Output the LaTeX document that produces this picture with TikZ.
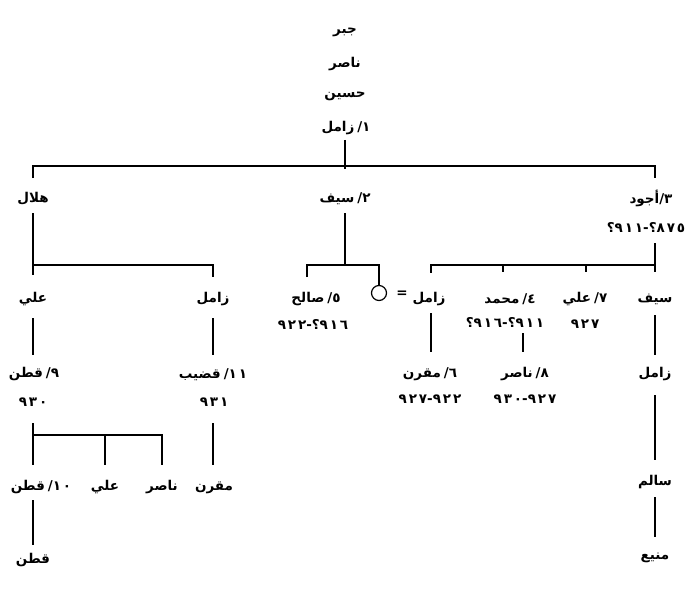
\documentclass[tikz,border=0pt]{standalone}
\usepackage{fontspec}
\newfontfamily\arabicfont[Script=Arabic]{DejaVu Sans}
\newfontfamily\digfont[LetterSpace=14]{DejaVu Sans}
\TeXXeTstate=1
% name labels come out right-to-left: pieces are written in reading (RTL) order
\newcommand\ar[1]{\mbox{\beginR#1\endR}}
\newcommand\dg[1]{\mbox{\digfont\bfseries #1}}
\newcommand\nl[2]{\ar{#2}\hspace{0.22em}\mbox{/}\dg{#1}}
\begin{document}
\begin{tikzpicture}[x=1pt,y=-1pt,
  lbl/.style={font=\arabicfont\bfseries\fontsize{13.5}{15}\selectfont, inner sep=0pt, anchor=center, yshift=-2.5pt},
  ln/.style={line width=1.2pt}]
\useasboundingbox[fill=white] (0,0) rectangle (700,588);
% top lineage
\node[lbl] (jabr) at (345,30) {\ar{جبر}};
\node[lbl] (nasir) at (345,62) {\ar{ناصر}};
\node[lbl] (husayn) at (345,94) {\ar{حسين}};
\node[lbl] (zamil1) at (346,126) {\nl{١}{زامل}};
% generation 2
\node[lbl] (hilal) at (33,196) {\ar{هلال}};
\node[lbl] (sayf2) at (345,196) {\nl{٢}{سيف}};
\node[lbl] (ajwad) at (651,196) {\ar{أجود}\mbox{/}\dg{٣}};
\node[lbl] (ajwadD) at (646,225) {\dg{؟}\dg{٩١١}\dg{-}\dg{؟}\dg{٨٧٥}};
% hilal branch
\node[lbl] (ali1) at (33,297) {\ar{علي}};
\node[lbl] (zamilH) at (213,297) {\ar{زامل}};
\node[lbl] (qatan9) at (34,372) {\nl{٩}{قطن}};
\node[lbl] (qatan9D) at (33,400) {\dg{٩٣٠}};
\node[lbl] (qudayb) at (213,372) {\nl{١١}{قضيب}};
\node[lbl] (qudaybD) at (214,400) {\dg{٩٣١}};
\node[lbl] (qatan10) at (41,485) {\nl{١٠}{قطن}};
\node[lbl] (ali10) at (105,485) {\ar{علي}};
\node[lbl] (nasir10) at (162,485) {\ar{ناصر}};
\node[lbl] (muqrin11) at (214,485) {\ar{مقرن}};
\node[lbl] (qatan) at (33,558) {\ar{قطن}};
% sayf branch
\node[lbl] (salih) at (316,297) {\nl{٥}{صالح}};
\node[lbl] (salihD) at (313,322) {\dg{٩٢٢}\dg{-}\dg{؟}\dg{٩١٦}};
\node[draw, circle, line width=1.2pt, minimum size=15pt, inner sep=0pt] (wife) at (379,293) {};
\node[lbl] (eq) at (402,292) {=};
% ajwad branch
\node[lbl] (zamilS) at (429,297) {\ar{زامل}};
\node[lbl] (muh) at (510,297) {\nl{٤}{محمد}};
\node[lbl] (muhD) at (505,320) {\dg{؟}\dg{٩١٦}\dg{-}\dg{؟}\dg{٩١١}};
\node[lbl] (ali7) at (585,297) {\nl{٧}{علي}};
\node[lbl] (ali7D) at (585,322) {\dg{٩٢٧}};
\node[lbl] (sayf3) at (655,297) {\ar{سيف}};
\node[lbl] (muqrin6) at (430,372) {\nl{٦}{مقرن}};
\node[lbl] (muqrin6D) at (430,397) {\dg{٩٢٧}\dg{-}\dg{٩٢٢}};
\node[lbl] (nasir8) at (525,372) {\nl{٨}{ناصر}};
\node[lbl] (nasir8D) at (525,397) {\dg{٩٣٠}\dg{-}\dg{٩٢٧}};
\node[lbl] (zamil4) at (655,372) {\ar{زامل}};
\node[lbl] (salim) at (655,480) {\ar{سالم}};
\node[lbl] (mani) at (655,555) {\ar{منيع}};
% junction coordinates
\coordinate (b1) at (345,166);
\coordinate (b2) at (33,265);
\coordinate (b3) at (345,265);
\coordinate (b4) at (655,265);
\coordinate (b5) at (33,435);
% connectors
\draw[ln] (345,140) -- (b1) -- ++(0,3);
\draw[ln] (33,178) -- (33,166) -- (655,166) -- (655,178);
\draw[ln] (33,213) -- (b2) -- (213,265) -- (213,277);
\draw[ln] (b2) -- ++(0,10);
\draw[ln] (345,213) -- (b3);
\draw[ln] (307,277) -- (307,265) -- (379,265) -- (wife.north);
\draw[ln] (655,243) -- (b4) -- (431,265) -- (431,273);
\draw[ln] (b4) -- ++(0,7);
\draw[ln] (503,265) -- ++(0,7);
\draw[ln] (586,265) -- ++(0,7);
\draw[ln] (33,318) -- (33,355);
\draw[ln] (213,318) -- (213,355);
\draw[ln] (33,423) -- (33,465);
\draw[ln] (b5) -- (162,435) -- (162,465);
\draw[ln] (105,435) -- (105,465);
\draw[ln] (213,423) -- (213,465);
\draw[ln] (33,500) -- (33,545);
\draw[ln] (431,313) -- (431,352);
\draw[ln] (523,333) -- (523,352);
\draw[ln] (655,315) -- (655,355);
\draw[ln] (655,395) -- (655,460);
\draw[ln] (655,497) -- (655,537);
\end{tikzpicture}
\end{document}
